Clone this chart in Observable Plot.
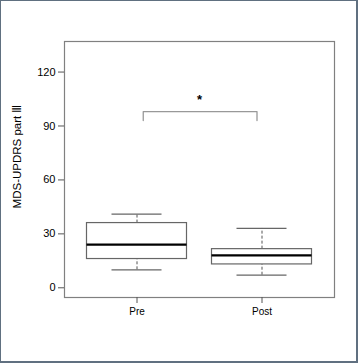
<!DOCTYPE html>
<html>
<head>
<meta charset="utf-8">
<script src="https://cdn.jsdelivr.net/npm/d3@7"></script>
<script src="https://cdn.jsdelivr.net/npm/@observablehq/plot@0.6"></script>
<style>
  html, body { margin: 0; padding: 0; background: #fff; }
  #wrap { position: relative; width: 358px; height: 363px; overflow: hidden; }
  #frame { position: absolute; left: 0; top: 0; width: 358px; height: 363px; box-sizing: border-box;
           border-left: 1px solid #607080; border-top: 1px solid #607080;
           border-right: 2px solid #607080; border-bottom: 2px solid #607080; pointer-events: none; }
  svg { display: block; }
</style>
</head>
<body>
<div id="wrap"><div id="chart"></div><div id="frame"></div></div>
<script>
// Data
const categories = ["Pre", "Post"];
const whiskerLow = [10, 7];
const q1 = [16, 13];
const median = [24, 18];
const q3 = [36, 21.5];
const whiskerHigh = [41, 33];
const yTicks = [0, 30, 60, 90, 120];
const yLabel = "MDS-UPDRS part Ⅲ";
// significance bracket
const bracketX = [1.05, 1.05, 1.96, 1.96];
const bracketY = [93, 98, 98, 93];
const sigLabel = "*";
const sigY = 106.4;

const rows = categories.map((c, i) => ({
  cat: c, pos: i + 1,
  lo: whiskerLow[i], q1: q1[i], med: median[i], q3: q3[i], hi: whiskerHigh[i]
}));
const bracket = bracketX.map((x, i) => ({x, y: bracketY[i]}));

const font = "'Liberation Sans', Arial, Helvetica, sans-serif";
const boxHalf = 0.4;
const capHalf = 0.2;

const chart = Plot.plot({
  width: 358,
  height: 363,
  marginLeft: 64,
  marginRight: 24,
  marginTop: 41,
  marginBottom: 66,
  style: {fontFamily: font, background: "white", color: "#000"},
  x: {domain: [0.42, 2.58], axis: null},
  y: {domain: [-5.4, 137], axis: null},
  marks: [
    Plot.frame({stroke: "#808080", strokeWidth: 1.2}),
    Plot.axisY({ticks: yTicks, tickSize: 6, tickPadding: 3, fontSize: 11, label: null, stroke: "#555", color: "#000"}),
    Plot.axisX({ticks: [1, 2], tickFormat: (d) => categories[d - 1], tickSize: 6, tickPadding: 4, fontSize: 10, label: null, stroke: "#555", color: "#000"}),
    Plot.text([yLabel], {frameAnchor: "left", rotate: -90, dx: -47.5, dy: -13, textAnchor: "middle", lineAnchor: "middle", fontSize: 11.5, fill: "#000"}),
    // whiskers
    Plot.ruleX(rows, {x: "pos", y1: "q3", y2: "hi", stroke: "#555", strokeDasharray: "3,2"}),
    Plot.ruleX(rows, {x: "pos", y1: "lo", y2: "q1", stroke: "#555", strokeDasharray: "3,2"}),
    // caps
    Plot.ruleY(rows, {y: "hi", x1: (d) => d.pos - capHalf, x2: (d) => d.pos + capHalf, stroke: "#666", strokeWidth: 1.2}),
    Plot.ruleY(rows, {y: "lo", x1: (d) => d.pos - capHalf, x2: (d) => d.pos + capHalf, stroke: "#666", strokeWidth: 1.2}),
    // boxes
    Plot.rect(rows, {x1: (d) => d.pos - boxHalf, x2: (d) => d.pos + boxHalf, y1: "q1", y2: "q3", fill: "white", stroke: "#666", strokeWidth: 1.2}),
    // medians
    Plot.ruleY(rows, {y: "med", x1: (d) => d.pos - boxHalf, x2: (d) => d.pos + boxHalf, stroke: "#000", strokeWidth: 2.2}),
    // significance
    Plot.line(bracket, {x: "x", y: "y", stroke: "#999", strokeWidth: 1.3}),
    Plot.text([sigLabel], {x: 1.5, y: sigY, text: (d) => d, fontSize: 13, fontWeight: "bold", lineAnchor: "middle", dy: 3, fill: "#000"})
  ]
});
document.getElementById("chart").appendChild(chart);
</script>
</body>
</html>
